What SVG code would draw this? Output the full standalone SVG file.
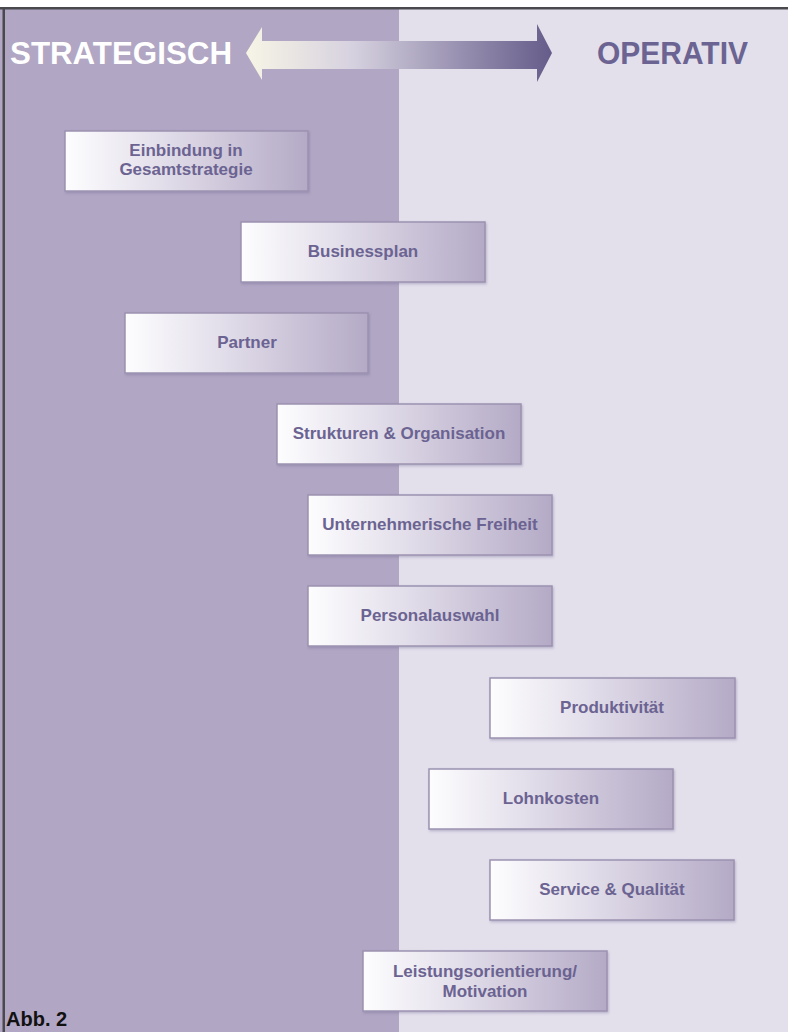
<svg xmlns="http://www.w3.org/2000/svg" width="788" height="1032" viewBox="0 0 788 1032">
<defs>
<linearGradient id="boxGrad" x1="0" y1="0" x2="1" y2="0">
<stop offset="0" stop-color="#fdfdfe"/>
<stop offset="0.35" stop-color="#e6e2ed"/>
<stop offset="1" stop-color="#b4aac6"/>
</linearGradient>
<linearGradient id="arrowGrad" x1="0" y1="0" x2="1" y2="0">
<stop offset="0" stop-color="#f7f5e6"/>
<stop offset="0.35" stop-color="#d6d1df"/>
<stop offset="0.7" stop-color="#9890b0"/>
<stop offset="1" stop-color="#655c8a"/>
</linearGradient>
<filter id="sh" x="-5%" y="-10%" width="110%" height="125%">
<feDropShadow dx="1" dy="1.5" stdDeviation="1" flood-color="#6b6391" flood-opacity="0.35"/>
</filter>
</defs>
<style>
.box{fill:url(#boxGrad);stroke:#9c92b1;stroke-width:1.5;filter:url(#sh)}
.lbl{font-family:"Liberation Sans",Arial,sans-serif;font-weight:bold;font-size:17px;fill:#6b6391;text-anchor:middle}
.head{font-family:"Liberation Sans",Arial,sans-serif;font-weight:bold;font-size:31px}
</style>
<rect x="0" y="0" width="788" height="1032" fill="#ffffff"/>
<rect x="0" y="8" width="399" height="1024" fill="#b1a6c3"/>
<rect x="399" y="8" width="389" height="1024" fill="#e3dfeb"/>
<rect x="0" y="7" width="788" height="2.5" fill="#4a4a4e"/>
<rect x="2.5" y="7" width="2.5" height="1025" fill="#4a4a4e"/>

<g id="header">
<text class="head" x="10" y="64" fill="#ffffff" textLength="222" lengthAdjust="spacingAndGlyphs">STRATEGISCH</text>
<text class="head" x="597" y="64" fill="#6b6391" textLength="151" lengthAdjust="spacingAndGlyphs">OPERATIV</text>
</g>
<g id="connectors">
<path d="M246,53 L262,27 L262,41 L537,41 L537,24 L552,53 L537,82 L537,69 L262,69 L262,80 Z" fill="url(#arrowGrad)"/>
</g>

<g id="n1"><rect class="box" x="65" y="131" width="243" height="60"/>
<text class="lbl" x="186" y="156">Einbindung in</text><text class="lbl" x="186" y="175">Gesamtstrategie</text></g>
<g id="n2"><rect class="box" x="241" y="222" width="244" height="60"/>
<text class="lbl" x="363" y="257">Businessplan</text></g>
<g id="n3"><rect class="box" x="125" y="313" width="243" height="60"/>
<text class="lbl" x="247" y="348">Partner</text></g>
<g id="n4"><rect class="box" x="277" y="404" width="244" height="60"/>
<text class="lbl" x="399" y="439">Strukturen &amp; Organisation</text></g>
<g id="n5"><rect class="box" x="308" y="495" width="244" height="60"/>
<text class="lbl" x="430" y="530">Unternehmerische Freiheit</text></g>
<g id="n6"><rect class="box" x="308" y="586" width="244" height="60"/>
<text class="lbl" x="430" y="621">Personalauswahl</text></g>
<g id="n7"><rect class="box" x="490" y="678" width="245" height="60"/>
<text class="lbl" x="612" y="713">Produktivität</text></g>
<g id="n8"><rect class="box" x="429" y="769" width="244" height="60"/>
<text class="lbl" x="551" y="804">Lohnkosten</text></g>
<g id="n9"><rect class="box" x="490" y="860" width="244" height="60"/>
<text class="lbl" x="612" y="895">Service &amp; Qualität</text></g>
<g id="n10"><rect class="box" x="363" y="951" width="244" height="60"/>
<text class="lbl" x="485" y="977">Leistungsorientierung/</text><text class="lbl" x="485" y="997">Motivation</text></g>

<text x="6" y="1026" font-family="Liberation Sans,Arial,sans-serif" font-weight="bold" font-size="20" fill="#111111">Abb. 2</text>
</svg>
